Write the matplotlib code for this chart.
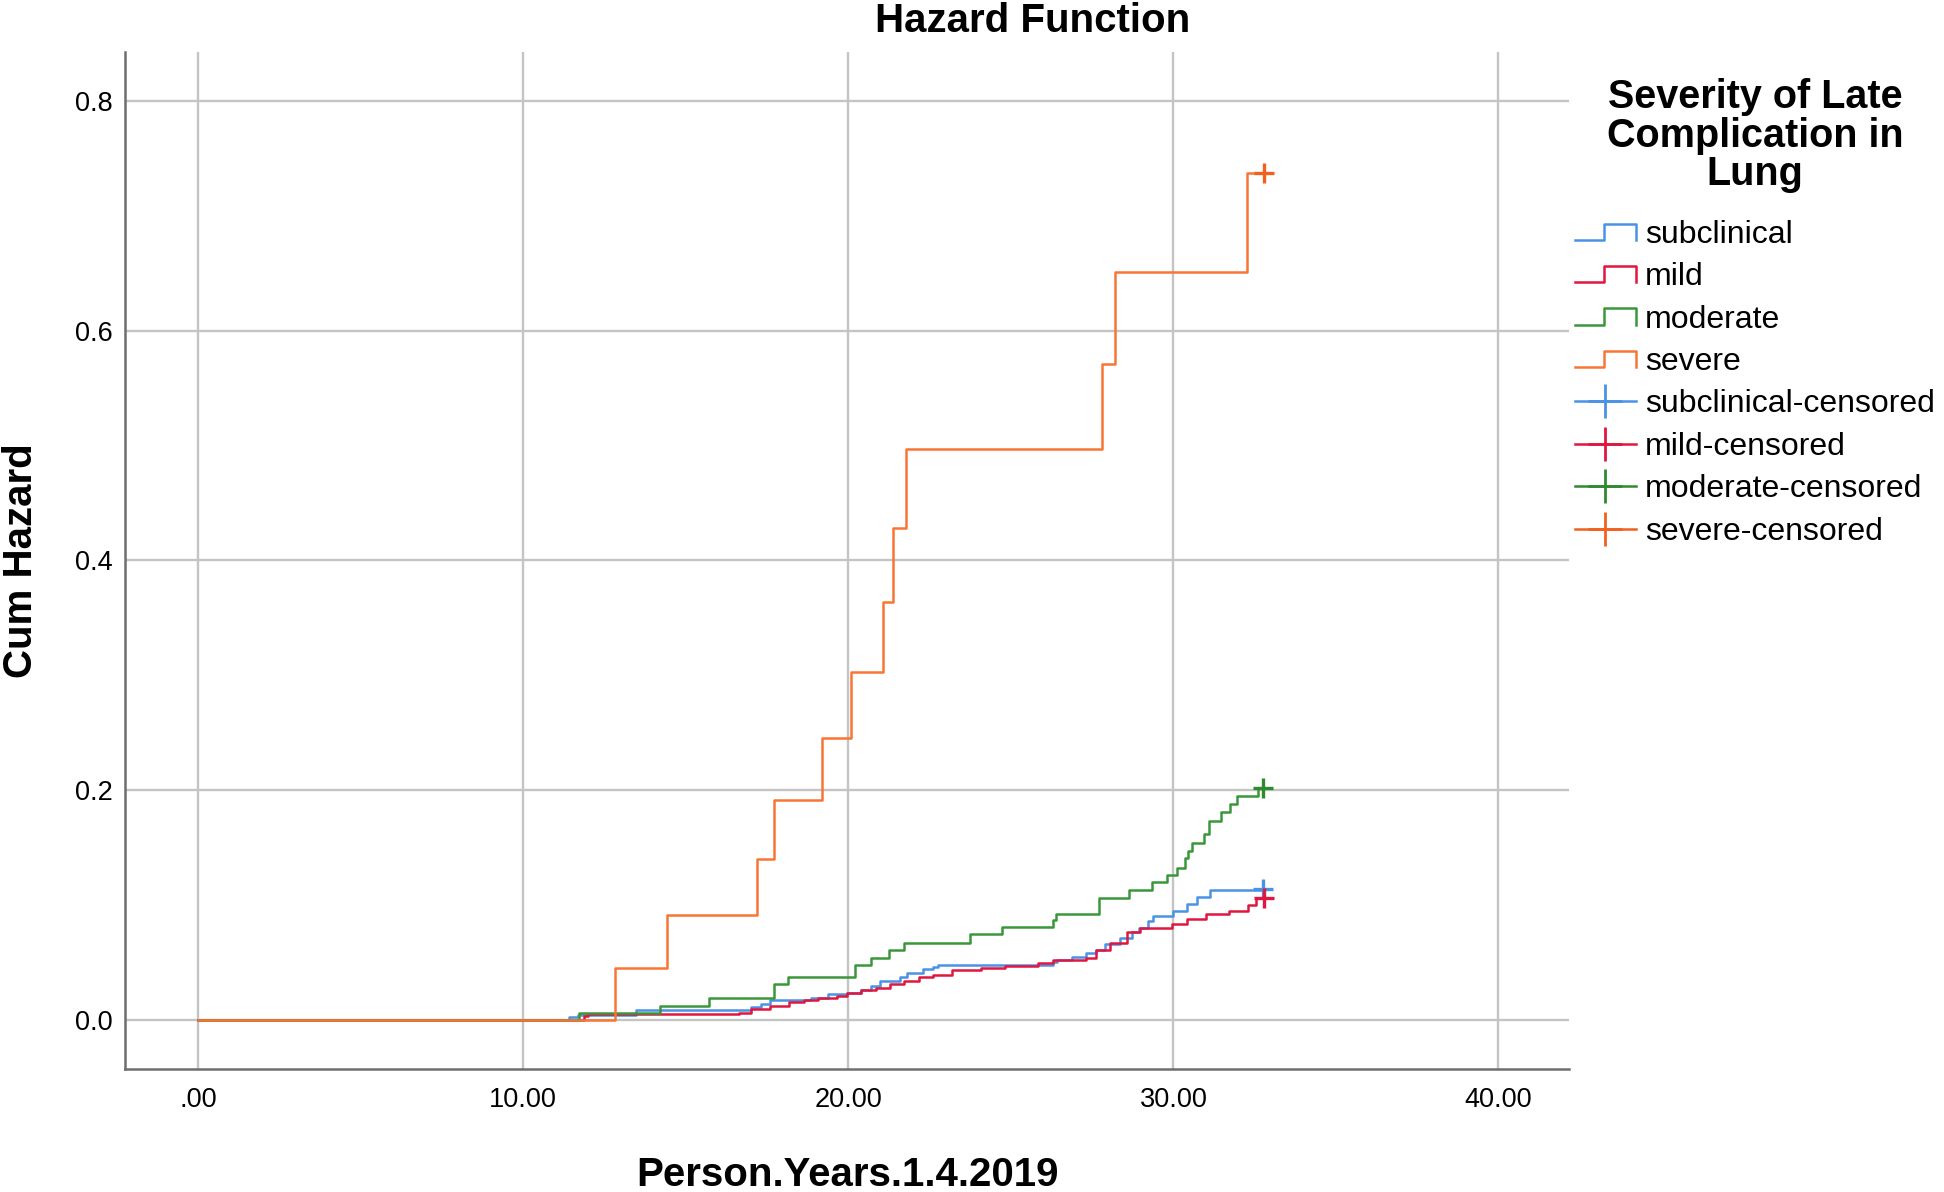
import matplotlib
matplotlib.use('Agg')
import matplotlib.pyplot as plt
from matplotlib.legend_handler import HandlerBase
from matplotlib.lines import Line2D

plt.rcParams['font.family'] = ['Liberation Sans', 'DejaVu Sans']

# ---------------- data ----------------
groups = ['subclinical', 'mild', 'moderate', 'severe']

sub_t = [0, 11.41, 11.7, 13.48, 17.0, 17.3, 17.6, 18.85, 19.37, 19.96, 20.4, 20.69, 20.99,
         21.58, 21.8, 22.31, 22.6, 22.75, 26.29, 26.43, 26.88, 27.32, 27.61, 27.9, 28.35,
         28.72, 28.94, 29.23, 29.38, 30.0, 30.42, 30.73, 31.14, 32.77]
sub_h = [0, 0.002, 0.004, 0.008, 0.011, 0.014, 0.017, 0.019, 0.022, 0.023, 0.026, 0.029, 0.034,
         0.037, 0.041, 0.044, 0.046, 0.048, 0.050, 0.052, 0.055, 0.058, 0.061, 0.066, 0.071,
         0.076, 0.080, 0.086, 0.090, 0.095, 0.101, 0.107, 0.113, 0.113]

mild_t = [0, 11.86, 12.0, 16.64, 17.0, 17.6, 18.19, 18.63, 19.07, 19.66, 19.96, 20.4, 20.84,
          21.28, 21.72, 22.17, 22.61, 23.2, 24.08, 24.82, 25.85, 26.29, 27.32, 27.61, 28.06,
          28.57, 28.98, 29.97, 30.41, 31.0, 31.7, 32.3, 32.55, 32.78]
mild_h = [0, 0.003, 0.005, 0.006, 0.009, 0.012, 0.015, 0.017, 0.019, 0.021, 0.023, 0.026, 0.028,
          0.031, 0.034, 0.037, 0.039, 0.043, 0.045, 0.047, 0.049, 0.052, 0.054, 0.061, 0.067,
          0.076, 0.080, 0.083, 0.088, 0.092, 0.095, 0.100, 0.106, 0.106]

mod_t = [0, 11.71, 14.21, 15.71, 17.70, 18.14, 20.2, 20.69, 21.24, 21.72, 23.74, 24.74, 26.29,
         26.40, 27.70, 28.62, 29.34, 29.8, 30.11, 30.37, 30.45, 30.58, 30.94, 31.09, 31.45,
         31.75, 31.96, 32.6, 32.75]
mod_h = [0, 0.006, 0.012, 0.019, 0.031, 0.037, 0.048, 0.054, 0.061, 0.067, 0.075, 0.081, 0.087,
         0.092, 0.106, 0.113, 0.120, 0.126, 0.132, 0.141, 0.147, 0.154, 0.162, 0.173, 0.181,
         0.188, 0.195, 0.202, 0.202]

sev_t = [0, 12.82, 14.43, 17.18, 17.7, 19.2, 20.08, 21.06, 21.39, 21.77, 27.8, 28.2, 32.27, 32.79]
sev_h = [0, 0.045, 0.091, 0.140, 0.191, 0.245, 0.303, 0.364, 0.428, 0.497, 0.571, 0.651, 0.738, 0.738]

# censored points (time, cum hazard)
cens_t = [32.77, 32.78, 32.75, 32.79]
cens_h = [0.114, 0.106, 0.202, 0.738]

xticks = [0, 10, 20, 30, 40]
xtick_labels = ['.00', '10.00', '20.00', '30.00', '40.00']
yticks = [0.0, 0.2, 0.4, 0.6, 0.8]
ytick_labels = ['0.0', '0.2', '0.4', '0.6', '0.8']

colors = ['#4a92e6', '#e0163f', '#3a963a', '#f87535']
cens_colors = ['#4a92e6', '#e0163f', '#2f8a2f', '#f0601e']

# ---------------- figure ----------------
W, H = 1944, 1192
fig = plt.figure(figsize=(W / 100, H / 100), dpi=100)
ax = fig.add_axes([125 / W, 1 - 1069 / H, (1569 - 125) / W, (1069 - 52) / H])

series = [(sub_t, sub_h), (mild_t, mild_h), (mod_t, mod_h), (sev_t, sev_h)]
step_lines = []
for (t, h), c, g in zip(series, colors, groups):
    ln, = ax.plot(t, h, drawstyle='steps-post', color=c, lw=1.8, label=g, zorder=3)
    step_lines.append(ln)

cens_handles = []
for ct, ch, c, g in zip(cens_t, cens_h, cens_colors, groups):
    ax.plot([ct], [ch], marker='+', ms=15, mew=2.4, color=c, linestyle='none', zorder=4)
    cens_handles.append(Line2D([], [], color=c, lw=1.8, marker='+', ms=24, mew=2.0))

ax.set_xlim(-2.25, 42.17)
ax.set_ylim(-0.043, 0.843)
ax.set_xticks(xticks)
ax.set_xticklabels(xtick_labels)
ax.set_yticks(yticks)
ax.set_yticklabels(ytick_labels)
ax.tick_params(length=0, labelsize=19.5)
ax.tick_params(axis='x', pad=13)
ax.tick_params(axis='y', pad=9)
ax.grid(True, color='#c4c4c4', lw=1.7, zorder=0)
ax.set_axisbelow(True)
for s in ['top', 'right']:
    ax.spines[s].set_visible(False)
for s in ['left', 'bottom']:
    ax.spines[s].set_color('#6e6e6e')
    ax.spines[s].set_linewidth(1.8)

ax.set_xlabel('Person.Years.1.4.2019', fontsize=29, fontweight='bold', labelpad=31)
ax.set_ylabel('Cum Hazard', fontsize=29, fontweight='bold', labelpad=25)

fig.text(1033 / W, 1 - 21 / H, 'Hazard Function', fontsize=29, fontweight='bold',
         ha='center', va='center')


class HandlerStep(HandlerBase):
    def create_artists(self, legend, orig_handle, xdescent, ydescent, width, height,
                       fontsize, trans):
        x0, y0 = -xdescent, -ydescent
        lo, hi = y0 + 0.12 * height, y0 + 0.85 * height
        xm = x0 + 0.47 * width
        xs = [x0, xm, xm, x0 + width, x0 + width]
        ys = [lo, lo, hi, hi, lo]
        ln = Line2D(xs, ys, color=orig_handle.get_color(), lw=orig_handle.get_linewidth())
        ln.set_transform(trans)
        return [ln]


handles = step_lines + cens_handles
labels = groups + [g + '-censored' for g in groups]
hmap = {ln: HandlerStep() for ln in step_lines}
leg = fig.legend(handles, labels, handler_map=hmap, loc='upper left',
                 bbox_to_anchor=(1575 / W, 1 - 78 / H), bbox_transform=fig.transFigure,
                 frameon=False, fontsize=23, borderpad=0, borderaxespad=0,
                 handlelength=1.9, handletextpad=0.3, labelspacing=0.39, numpoints=1,
                 title='Severity of Late\nComplication in\nLung',
                 title_fontproperties={'weight': 'bold', 'size': 28.5}, alignment='center')
leg.get_title().set_multialignment('center')
leg.get_title().set_linespacing(1.02)
leg._legend_box.sep = 19

fig.savefig('out.png', dpi=100)
